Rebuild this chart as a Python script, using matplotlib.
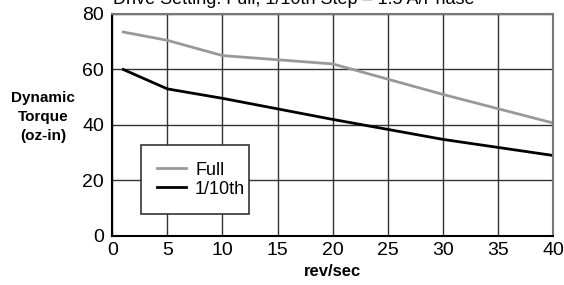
import matplotlib
matplotlib.use("Agg")
import matplotlib.pyplot as plt
from matplotlib import font_manager

names = {f.name for f in font_manager.fontManager.ttflist}
fam = ['Liberation Sans Narrow', 'Liberation Sans', 'DejaVu Sans']
fam = [f for f in fam if f in names] or ['DejaVu Sans']
plt.rcParams['font.family'] = fam

speed = [1, 5, 10, 20, 30, 40]
full = [73.5, 70.5, 65, 62, 51, 40.7]
tenth = [60, 53, 49.6, 42, 34.8, 29]
xticks = [0, 5, 10, 15, 20, 25, 30, 35, 40]
yticks = [0, 20, 40, 60, 80]

fig = plt.figure(figsize=(5.64, 2.85), dpi=100)
ax = fig.add_axes([0.199, 0.172, 0.782, 0.779])
ax.set_xlim(0, 40)
ax.set_ylim(0, 80)
ax.set_xticks(xticks)
ax.set_yticks(yticks)
ax.grid(True, color='#333333', lw=1)
ax.tick_params(axis='x', length=0, labelsize=14, pad=4)
ax.tick_params(axis='y', length=0, labelsize=14, pad=6)
for s in ['top', 'right']:
    ax.spines[s].set_color('#777777')
    ax.spines[s].set_linewidth(1.5)
for s in ['left', 'bottom']:
    ax.spines[s].set_color('black')
    ax.spines[s].set_linewidth(1.5)

l1, = ax.plot(speed, full, color='#999999', lw=2, label='Full')
l2, = ax.plot(speed, tenth, color='black', lw=2, label='1/10th')

leg = ax.legend(loc='lower left', bbox_to_anchor=(0.065, 0.1, 0.245, 0.32),
                mode='expand', fontsize=13, frameon=True, fancybox=False,
                handlelength=1.6, handletextpad=0.5, borderaxespad=0,
                labelspacing=0.1, borderpad=0.9)
leg.get_frame().set_edgecolor('#333333')
leg.get_frame().set_linewidth(1.2)
leg.get_frame().set_alpha(1)

ax.set_xlabel('rev/sec', fontsize=12, fontweight='bold', labelpad=4)
fig.text(0.076, 0.59, 'Dynamic\nTorque\n(oz-in)', ha='center', va='center',
         fontsize=11, fontweight='bold', linespacing=1.45)
fig.text(0.2, 0.985, 'Drive Setting: Full, 1/10th Step \u2013 1.5 A/Phase',
         ha='left', va='baseline', fontsize=13)

fig.savefig('out.png', dpi=100)
